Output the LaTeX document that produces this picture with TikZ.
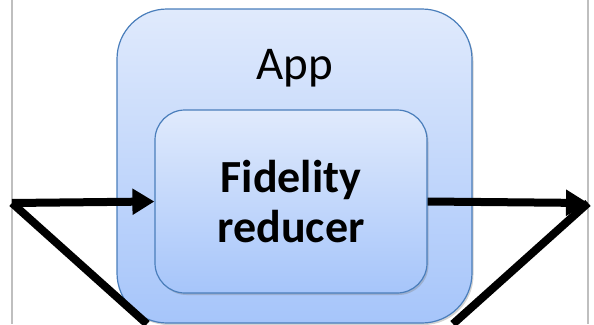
\documentclass[tikz,border=0pt]{standalone}
\usepackage{fontspec}
\setmainfont{Carlito}
\usetikzlibrary{arrows.meta,shadows,positioning}

\definecolor{boxtop}{RGB}{224,234,252}
\definecolor{boxbot}{RGB}{166,197,250}
\definecolor{boxline}{RGB}{74,126,187}

\begin{document}
\begin{tikzpicture}[x=1pt, y=-1pt,
        box/.style={draw=boxline, line width=1.2pt, top color=boxtop, bottom color=boxbot,
          drop shadow={shadow xshift=1.5pt, shadow yshift=-2pt, opacity=0.35}},
        flow/.style={line width=8pt, -{Triangle[length=22pt,width=25pt]}}]
      \tikzstyle{rail} = [draw=black!25, line width=2.5pt]
      \useasboundingbox (0,0) rectangle (594,324);
      \clip (0,0) rectangle (594,324);
      % side rails
      \draw[rail] (12,0) -- (12,324);
      \draw[rail] (588,0) -- (588,324);
      % boxes
      \node (app) [box, rounded corners=50pt, minimum width=355pt, minimum height=314pt] at (294.5,166) {};
      \node (applabel) [anchor=base, font=\fontsize{47}{50}\selectfont] at (294.5,79) {App};
      \node (reducer) [box, rounded corners=30pt, minimum width=272pt, minimum height=183pt,
        align=center, font=\fontsize{46}{50}\selectfont\bfseries] at (291,201.5) {Fidelity\\reducer};
      % connectors
      \coordinate (in) at (12,203);
      \coordinate (out) at (588,203);
      \coordinate (inlow) at (147,324);
      \coordinate (outlow) at (453,324);
      \draw[flow] (in) -- (reducer.west);
      \draw[flow] (reducer.east) -- (out);
      \draw[line width=8pt] (in) -- (inlow);
      \draw[line width=8pt] (out) -- (outlow);
    \end{tikzpicture}
\end{document}
